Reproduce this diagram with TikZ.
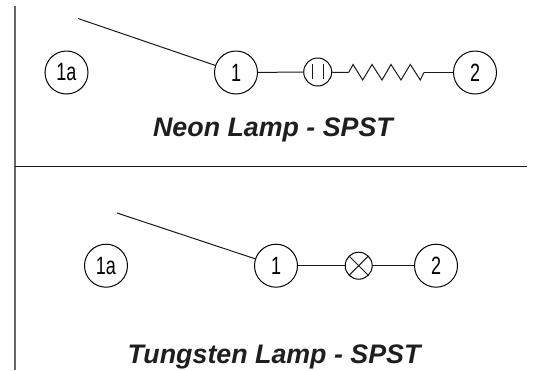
\documentclass[tikz,border=0pt]{standalone}
\usepackage{fontspec}
\setmainfont{Liberation Sans}
\newfontfamily\pinfont[FakeStretch=0.72]{Liberation Sans}
\usetikzlibrary{positioning}

\begin{document}
\begin{tikzpicture}[
        x=1pt, y=-1pt,
        pin/.style={draw, circle, minimum size=43pt, inner sep=0pt, outer sep=0pt, line width=1pt, font=\pinfont\fontsize{25}{25}\selectfont},
        lamp/.style={draw, circle, minimum size=#1, inner sep=0pt, outer sep=0pt, line width=1pt},
        wire/.style={line width=1pt, black!90},
        frame/.style={line width=1.5pt, black!60},
        caption/.style={font=\fontsize{26.8}{27}\selectfont\bfseries\itshape, text=black!88, inner sep=0pt, anchor=base}
    ]
        \useasboundingbox (0,0) rectangle (534,370);

        \coordinate (frameTop) at (15,6);
        \coordinate (frameBot) at (15,370);
        \coordinate (ruleL) at (15,166);
        \coordinate (ruleR) at (527,166);
        \draw[frame] (frameTop) -- (frameBot);
        \draw[wire] (ruleL) -- (ruleR);

        % neon lamp
        \node[pin] (neonA) at (66.5,72.5) {1a};
        \node[pin] (neonB) at (236,72.5) {1};
        \node[lamp=28pt] (neon) at (317.7,72) {};
        \node[pin] (neonC) at (475,72.5) {2};
        \coordinate (neonArm) at (78,18.5);
        \coordinate (resL) at (348.7,72.5);
        \coordinate (resR) at (424,72.5);

        \draw[wire] (neonArm) -- (neonB);
        \draw[wire] (neonB) -- (neon);
        \draw[wire] (neon) -- (resL);
        \draw[wire] (resL) -- (353,64.5) -- (362.7,80) -- (372,64.5) -- (382,80) -- (391,64.5) -- (401,80) -- (410.3,64.5) -- (420.3,80) -- (resR);
        \draw[wire] (resR) -- (neonC);
        \draw[wire] (312.7,64) -- (312.7,79);
        \draw[wire] (323.7,64) -- (323.7,79);

        \node[caption] (neonTitle) at (273,136.7) {Neon Lamp - SPST};

        % tungsten lamp
        \node[pin] (tungA) at (106,265.7) {1a};
        \node[pin] (tungB) at (276,265.7) {1};
        \node[lamp=27pt] (tung) at (358.7,265.7) {};
        \node[pin] (tungC) at (436,265.7) {2};
        \coordinate (tungArm) at (117,213);

        \draw[wire] (tungArm) -- (tungB);
        \draw[wire] (tungB) -- (tung);
        \draw[wire] (tung) -- (tungC);
        \draw[wire] (tung.45) -- (tung.225);
        \draw[wire] (tung.135) -- (tung.315);

        \node[caption] (tungTitle) at (274,363) {Tungsten Lamp - SPST};
    \end{tikzpicture}
\end{document}
